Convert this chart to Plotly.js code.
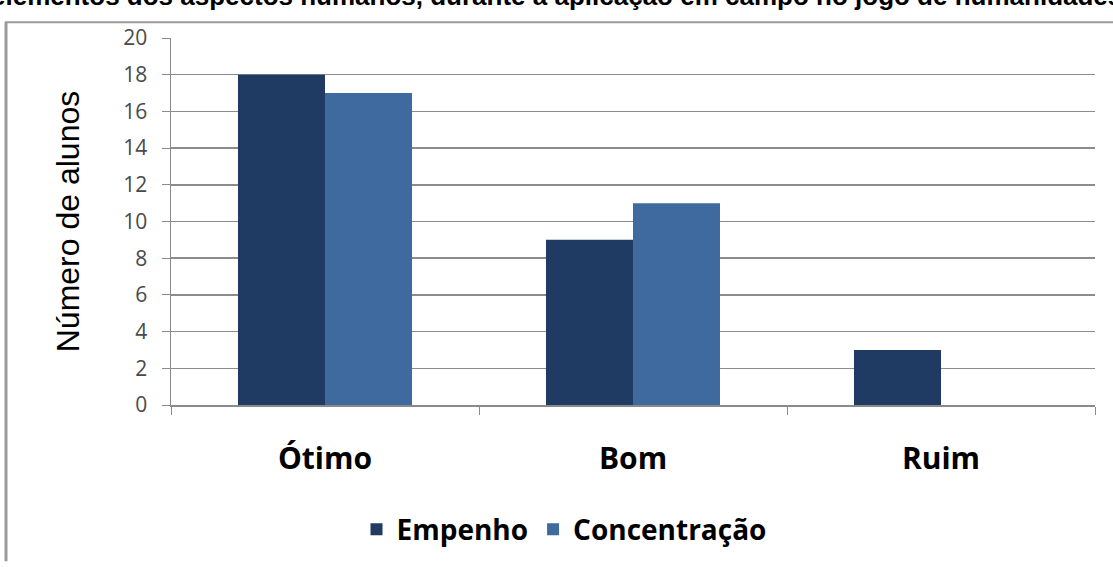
<!DOCTYPE html>
<html>
<head>
<meta charset="utf-8">
<script src="https://cdn.plot.ly/plotly-3.0.1.min.js"></script>
<style>html,body{margin:0;padding:0;background:#fff;}#chart{width:1113px;height:567px;}</style>
</head>
<body>
<div id="chart"></div>
<script>
var categories = ["Ótimo", "Bom", "Ruim"];
var empenho = [18, 9, 3];
var concentracao = [17, 11, 0];
var seriesNames = ["Empenho", "Concentração"];
var yTitle = "Número de alunos";
var topText = "elementos dos aspectos humanos, durante a aplicação em campo no jogo de humanidades";

var W = 1113, H = 567, L = 171, R = 18, T = 38, B = 158;
var pw = W - L - R, ph = H - T - B;
function px(x){ return (x - L) / pw; }
function py(y){ return (H - B - y) / ph; }

var traces = [
  {type: "bar", name: seriesNames[0], x: categories, y: empenho,
   marker: {color: "#1f3b63", line: {width: 0}}},
  {type: "bar", name: seriesNames[1], x: categories, y: concentracao,
   marker: {color: "#3e6a9f", line: {width: 0}}}
];

var layout = {
  width: W, height: H,
  margin: {l: L, r: R, t: T, b: B, pad: 0},
  paper_bgcolor: "#ffffff", plot_bgcolor: "#ffffff",
  barmode: "group", bargap: 0.435, bargroupgap: 0,
  showlegend: true,
  legend: {orientation: "h", x: px(564), xanchor: "center", y: py(535), yanchor: "middle",
           font: {family: "Open Sans", size: 28, color: "#000", weight: 700}, itemwidth: 30,
           traceorder: "normal"},
  xaxis: {type: "category", tickson: "boundaries", ticks: "outside", ticklen: 8, tickcolor: "#8a8a8a",
          showline: true, linecolor: "#8a8a8a", linewidth: 1.5, showgrid: false,
          tickfont: {family: "Open Sans", size: 30, color: "#000", weight: 700},
          ticklabelstandoff: 26, fixedrange: true},
  yaxis: {range: [0, 20], dtick: 2, ticks: "outside", ticklen: 8, tickcolor: "#8a8a8a",
          showline: true, linecolor: "#8a8a8a", linewidth: 1.5,
          showgrid: true, gridcolor: "#8c8c8c", gridwidth: 1.5, zeroline: false,
          tickfont: {family: "Open Sans", size: 21, color: "#4a4a4a"},
          ticklabelstandoff: 10,
          title: {text: yTitle, font: {family: "Liberation Sans", size: 32, color: "#000"}, standoff: 34},
          fixedrange: true},
  shapes: [
    {type: "line", xref: "paper", yref: "paper", x0: px(5), x1: px(1113), y0: py(22), y1: py(22),
     line: {color: "#9a9a9a", width: 2}},
    {type: "line", xref: "paper", yref: "paper", x0: px(6), x1: px(6), y0: py(22), y1: py(567),
     line: {color: "#9a9a9a", width: 3}}
  ],
  annotations: [
    {text: topText, xref: "paper", yref: "paper", x: px(556), y: py(-4), xanchor: "center", yanchor: "middle",
     showarrow: false, font: {family: "Liberation Sans", size: 26, color: "#000", weight: 700}}
  ]
};

Plotly.newPlot("chart", traces, layout, {staticPlot: true, displayModeBar: false});
</script>
</body>
</html>
